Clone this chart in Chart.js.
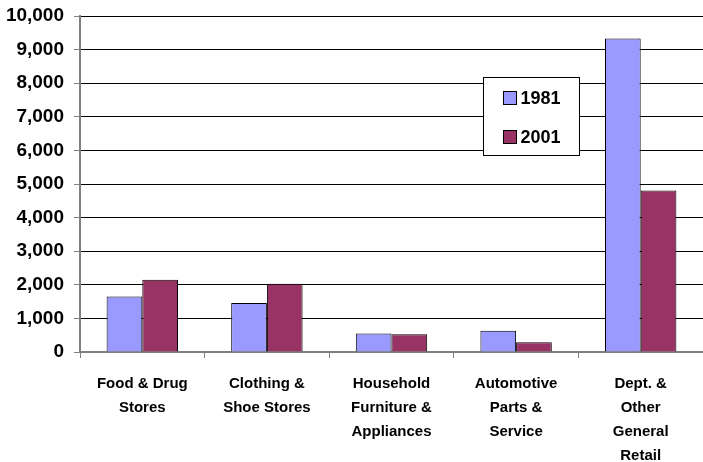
<!DOCTYPE html>
<html><head><meta charset="utf-8">
<script src="https://cdn.jsdelivr.net/npm/chart.js@4"></script>
<style>html,body{margin:0;padding:0;background:#fff}#wrap{width:703px;height:462px}</style>
</head><body><div id="wrap"><canvas id="c"></canvas></div>
<script>
const categories = [["Food & Drug","Stores"],["Clothing &","Shoe Stores"],["Household","Furniture &","Appliances"],["Automotive","Parts &","Service"],["Dept. &","Other","General","Retail"]];
const seriesNames = ["1981","2001"];
const values1981 = [1650, 1460, 550, 630, 9330];
const values2001 = [2150, 2030, 530, 290, 4810];
const colors = ["#9999FF","#993366"];
const FONT = "'Liberation Sans', Arial, sans-serif";

const boxLegend = {
  id: 'boxLegend',
  afterDraw(chart) {
    const ctx = chart.ctx;
    const x0 = 483.5, y0 = 77.5, w = 96, h = 78;
    ctx.save();
    ctx.fillStyle = '#fff';
    ctx.fillRect(x0, y0, w, h);
    ctx.strokeStyle = '#000'; ctx.lineWidth = 1;
    ctx.strokeRect(x0, y0, w, h);
    ctx.font = "bold 18px " + FONT;
    ctx.textBaseline = 'middle';
    chart.data.datasets.forEach((ds, i) => {
      const cy = y0 + 20.5 + i * 39;
      ctx.fillStyle = ds.backgroundColor;
      ctx.fillRect(x0 + 20, cy - 6.5, 13, 13);
      ctx.strokeStyle = '#000';
      ctx.strokeRect(x0 + 20, cy - 6.5, 13, 13);
      ctx.fillStyle = '#000';
      ctx.fillText(ds.label, x0 + 37, cy + 1);
    });
    ctx.restore();
  }
};

new Chart(document.getElementById('c'), {
  type: 'bar',
  data: {
    labels: categories,
    datasets: [
      {label: seriesNames[0], data: values1981, backgroundColor: colors[0], borderColor: '#000', borderWidth: 1},
      {label: seriesNames[1], data: values2001, backgroundColor: colors[1], borderColor: '#000', borderWidth: 1}
    ]
  },
  options: {
    responsive: true, maintainAspectRatio: false, animation: false,
    layout: {padding: {top: 16, right: -5, left: 0, bottom: 0}},
    categoryPercentage: 0.573, barPercentage: 1,
    plugins: {legend: {display: false}, tooltip: {enabled: false}},
    scales: {
      x: {
        grid: {drawOnChartArea: false, drawTicks: true, tickLength: 6, tickColor: '#808080', offset: true},
        border: {color: '#808080', width: 2},
        ticks: {color: '#000', font: {family: FONT, size: 15, weight: 'bold', lineHeight: 1.6}, maxRotation: 0, autoSkip: false, padding: 14},
        afterFit(s) { s.height = 110; s.paddingRight = 0; s.paddingLeft = 0; }
      },
      y: {
        min: 0, max: 10000,
        grid: {color: '#000', lineWidth: 1, tickLength: 6, tickColor: '#808080', drawTicks: true},
        border: {color: '#808080', width: 2},
        ticks: {stepSize: 1000, color: '#000', padding: 10, font: {family: FONT, size: 19, weight: 'bold'},
                callback: v => v.toLocaleString('en-US')},
        afterFit(s) { s.width = 80; s.paddingTop = 0; s.paddingBottom = 0; }
      }
    }
  },
  plugins: [boxLegend]
});
</script></body></html>
